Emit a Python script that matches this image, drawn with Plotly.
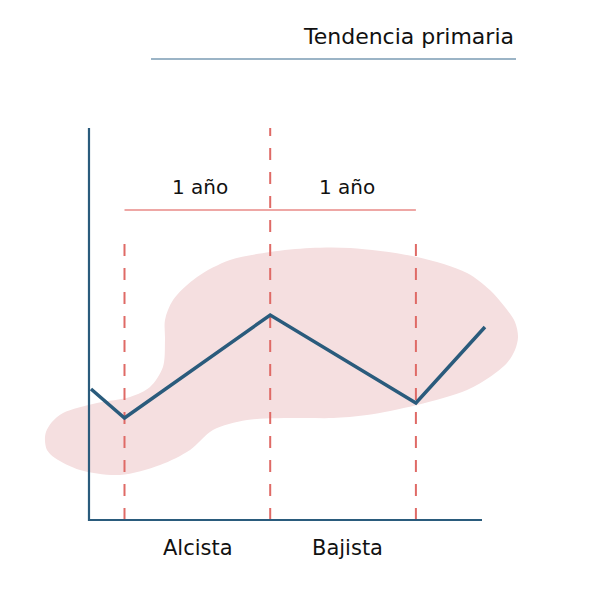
import plotly.graph_objects as go

# Price path (x in years, y in price units)
trend_x = [-0.23, 0.0, 1.0, 2.0, 2.474]
trend_y = [1.31, 1.02, 2.05, 1.17, 1.93]

# Year markers
year_marks = [0, 1, 2]
year_mark_tops = [2.87, 3.92, 2.87]

# Period labels
period_labels = ["1 año", "1 año"]
period_label_x = [0.52, 1.53]
phase_labels = ["Alcista", "Bajista"]
phase_label_x = [0.504, 1.528]

title_text = "Tendencia primaria"

# Background blob outline (data units)
blob_x = [1.0, 1.273, 1.55, 2.008, 2.351, 2.508, 2.611, 2.680, 2.701, 2.680, 2.625, 2.508,
          2.351, 2.008, 1.664, 1.431, 1.205, 0.841, 0.607, 0.450, 0.244, -0.031,
          -0.305, -0.477, -0.532, -0.546, -0.539, -0.498, -0.422, -0.189, 0.038, 0.175,
          0.264, 0.278, 0.278, 0.333, 0.498, 0.724, 1.0]
blob_y = [2.68, 2.72, 2.72, 2.63, 2.47, 2.30, 2.13, 1.98, 1.83, 1.70, 1.57, 1.43,
          1.30, 1.15, 1.05, 1.02, 1.02, 1.00, 0.90, 0.70, 0.55, 0.45,
          0.50, 0.62, 0.70, 0.80, 0.88, 0.98, 1.07, 1.17, 1.23, 1.33,
          1.53, 1.80, 2.00, 2.20, 2.43, 2.60, 2.68]

AXIS_X0, AXIS_X1 = -0.2437, 2.4537
AXIS_Y0, AXIS_Y1 = 0.0, 3.92

BLUE = "#2a5b7c"
RED = "#df6a66"
PINK = "#f5dfe0"

fig = go.Figure()

fig.add_trace(go.Scatter(x=blob_x, y=blob_y, mode="lines", fill="toself",
                         fillcolor=PINK, line=dict(color=PINK, width=0, shape="spline", smoothing=0.9),
                         hoverinfo="skip"))

# dashed year markers
for xm, top in zip(year_marks, year_mark_tops):
    fig.add_trace(go.Scatter(x=[xm, xm], y=[AXIS_Y0, top], mode="lines",
                             line=dict(color=RED, width=2, dash="12px,12px"), hoverinfo="skip"))

# red span line
fig.add_trace(go.Scatter(x=[year_marks[0], year_marks[-1]], y=[3.10, 3.10], mode="lines",
                         line=dict(color="#e98a87", width=1.5), hoverinfo="skip"))

# axes
fig.add_trace(go.Scatter(x=[AXIS_X0, AXIS_X0, AXIS_X1], y=[AXIS_Y1, AXIS_Y0, AXIS_Y0], mode="lines",
                         line=dict(color=BLUE, width=2.2), hoverinfo="skip"))

# trend line
fig.add_trace(go.Scatter(x=trend_x, y=trend_y, mode="lines",
                         line=dict(color=BLUE, width=3.5), hoverinfo="skip"))

# title underline
fig.add_trace(go.Scatter(x=[0.182, 2.687], y=[4.61, 4.61], mode="lines",
                         line=dict(color="#9bb4c6", width=2), hoverinfo="skip"))

FAMILY = "DejaVu Sans, sans-serif"

fig.add_annotation(x=2.687, y=4.84, text=title_text, showarrow=False,
                   xanchor="right", yanchor="middle",
                   font=dict(family=FAMILY, size=22, color="#111111"))
for lx, lt in zip(period_label_x, period_labels):
    fig.add_annotation(x=lx, y=3.33, text=lt, showarrow=False,
                       xanchor="center", yanchor="middle",
                       font=dict(family=FAMILY, size=20, color="#111111"))
for lx, lt in zip(phase_label_x, phase_labels):
    fig.add_annotation(x=lx, y=-0.28, text=lt, showarrow=False,
                       xanchor="center", yanchor="middle",
                       font=dict(family=FAMILY, size=21, color="#111111"))

fig.update_layout(
    width=600, height=600,
    margin=dict(l=0, r=0, t=0, b=0),
    paper_bgcolor="white", plot_bgcolor="white",
    showlegend=False,
    xaxis=dict(range=[-0.7996, 3.3185], visible=False, fixedrange=True),
    yaxis=dict(range=[-0.88, 5.12], visible=False, fixedrange=True),
)

fig.write_html("out.html")
